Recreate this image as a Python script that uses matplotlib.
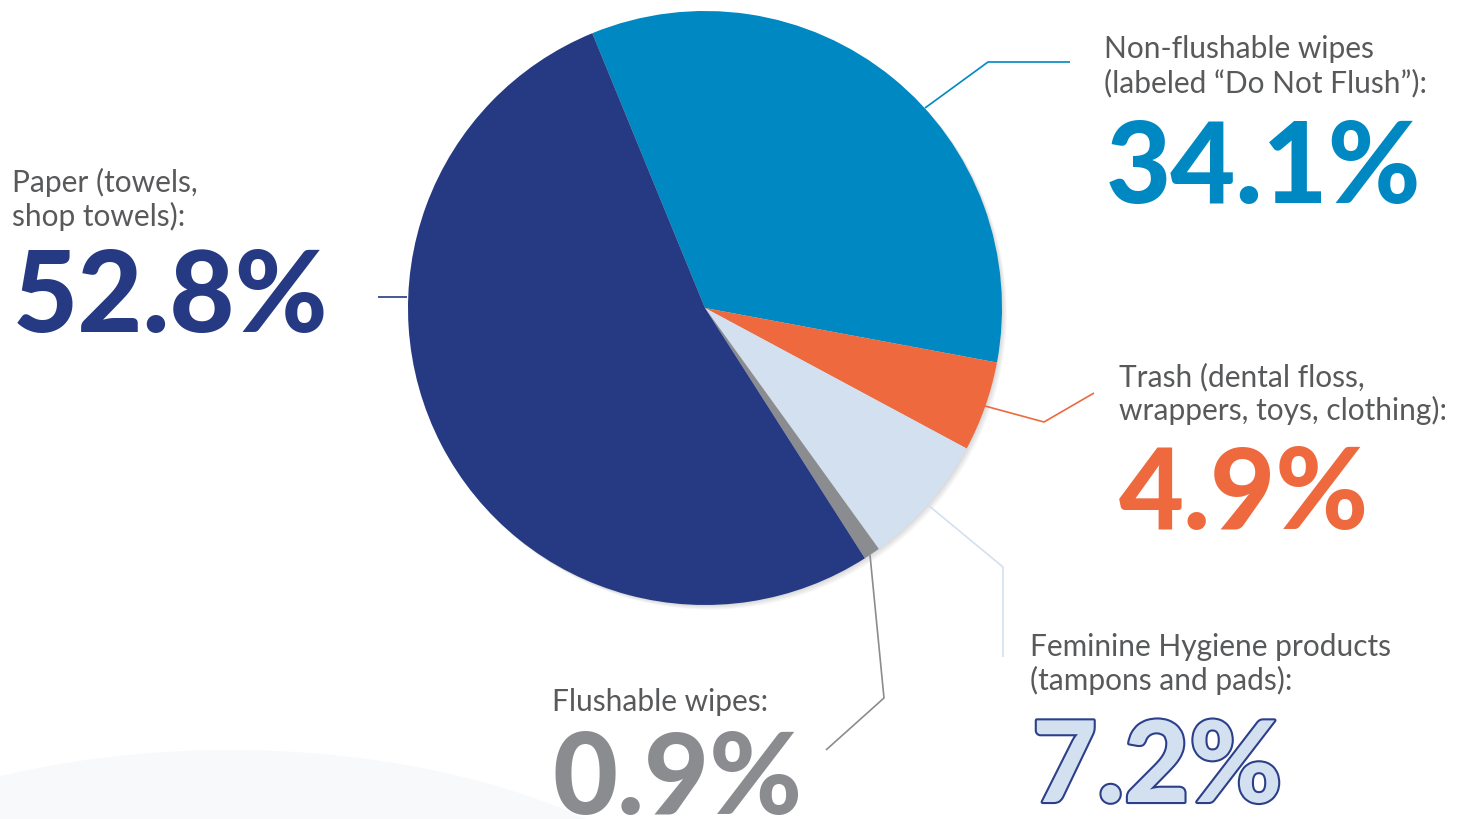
import matplotlib
matplotlib.use('Agg')
from matplotlib import pyplot as plt
from matplotlib.patches import Circle, Ellipse
import matplotlib.patheffects as pe

# data (clockwise from the top)
cats = ['Non-flushable wipes', 'Trash', 'Feminine Hygiene products', 'Flushable wipes', 'Paper']
line1 = ['Non-flushable wipes', 'Trash (dental floss,', 'Feminine Hygiene products', 'Flushable wipes:', 'Paper (towels,']
line2 = ['(labeled \u201cDo Not Flush\u201d):', 'wrappers, toys, clothing):', '(tampons and pads):', '', 'shop towels):']
values = [34.1, 4.9, 7.2, 0.9, 52.8]
colors = ['#0088c2', '#ee6a3e', '#d3e0f0', '#8a8c90', '#253a82']

W, H = 1470, 819
def Y(py):
    return H - py

fig = plt.figure(figsize=(W / 100, H / 100), dpi=100)
ax = fig.add_axes([0, 0, 1, 1])

# faint background swoosh bottom-left
ax.add_patch(Ellipse((230, Y(1010)), 1050, 520, facecolor='#f7f9fb', edgecolor='none', zorder=0))

# pie + soft shadow
cx, cy, r = 705, Y(308), 297
for k in range(1, 7):
    ax.add_patch(Circle((cx + k * 0.8, cy - k * 0.8), r, facecolor='k', alpha=0.025, edgecolor='none', zorder=1))
ax.pie(values, colors=colors, startangle=112.3, counterclock=False, center=(cx, cy), radius=r,
       wedgeprops={'linewidth': 0}, frame=True)
ax.set_xlim(0, W)
ax.set_ylim(0, H)
ax.set_aspect('equal')
ax.axis('off')

# leader lines (pixel coords)
leaders = [
    [(925, 108), (988, 62), (1070, 62)],
    [(985, 406), (1044, 422), (1094, 393)],
    [(928, 505), (1003, 567), (1003, 657)],
    [(870, 555), (884, 698), (826, 750)],
    [(378, 297), (407, 297)],
]
for pts, c in zip(leaders, colors):
    ax.plot([p[0] for p in pts], [Y(p[1]) for p in pts], color=c, lw=1.2, solid_capstyle='butt', zorder=3)

# label positions: x, first baseline, second baseline, percent x, percent baseline
pos = [
    (1104, 58, 92, 1106, 203),
    (1119, 386, 420, 1119, 529),
    (1030, 656, 690, 1032, 802),
    (552, 711, None, 553, 814),
    (12, 192, 226, 13, 332),
]
lab_kw = dict(family=['Lato', 'DejaVu Sans'], fontweight='normal', fontsize=21.5, color='#58595b',
              ha='left', va='baseline', zorder=4)
big_kw = dict(family=['Lato', 'DejaVu Sans'], fontweight='black', fontsize=81, ha='left', va='baseline', zorder=4)

for i, (l1, l2, v, c) in enumerate(zip(line1, line2, values, colors)):
    x, b1, b2, xp, bp = pos[i]
    ax.text(x, Y(b1), l1, **lab_kw)
    if l2:
        ax.text(x, Y(b2), l2, **lab_kw)
    t = ax.text(xp, Y(bp), f'{v}%', color=c, **big_kw)
    if cats[i] == 'Feminine Hygiene products':
        t.set_path_effects([pe.withStroke(linewidth=3, foreground='#2b3f8a')])

plt.savefig('out.png', dpi=100, facecolor='white')
